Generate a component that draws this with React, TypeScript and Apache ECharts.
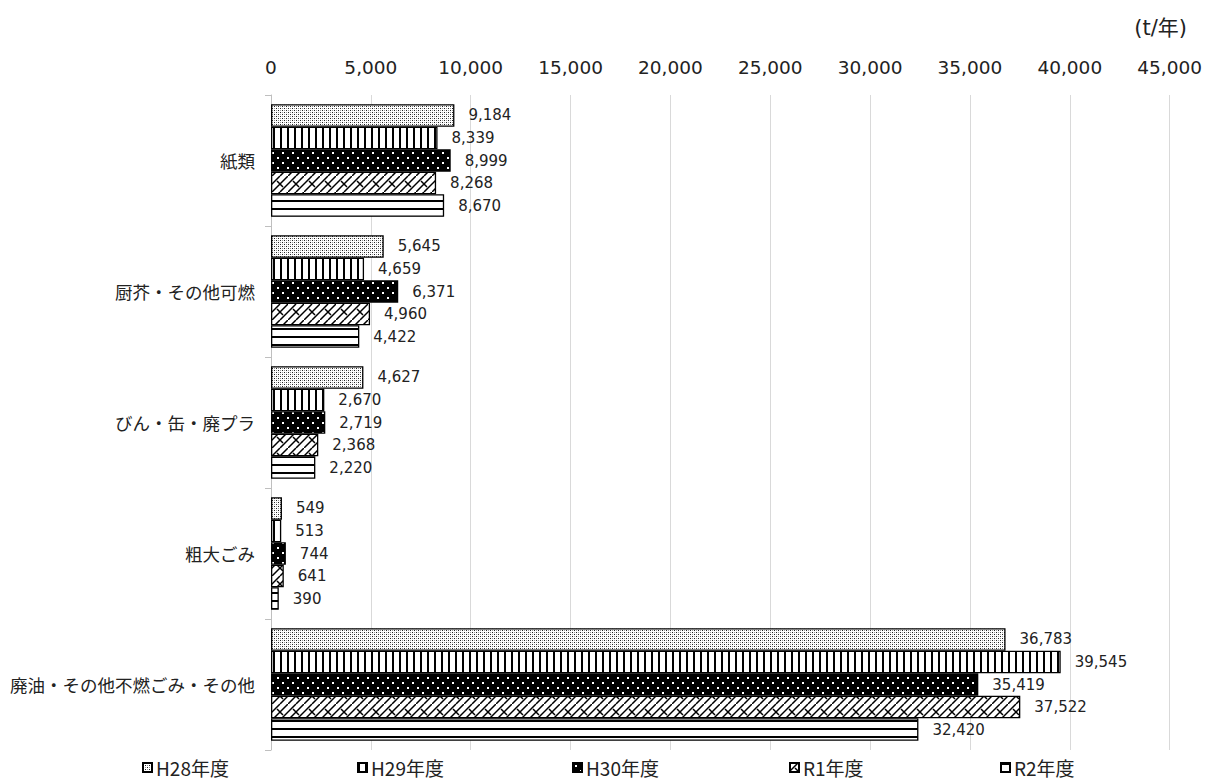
import React, { useEffect, useRef } from "react";
import * as echarts from "echarts";

const categories = ["紙類", "厨芥・その他可燃", "びん・缶・廃プラ", "粗大ごみ", "廃油・その他不燃ごみ・その他"];
const seriesNames = ["H28年度", "H29年度", "H30年度", "R1年度", "R2年度"];
const h28 = [9184, 5645, 4627, 549, 36783];
const h29 = [8339, 4659, 2670, 513, 39545];
const h30 = [8999, 6371, 2719, 744, 35419];
const r1 = [8268, 4960, 2368, 641, 37522];
const r2 = [8670, 4422, 2220, 390, 32420];
const seriesValues = [h28, h29, h30, r1, r2];
const xTicks = { min: 0, max: 45000, interval: 5000 };
const unitLabel = "(t/年)";

function mk(w: number, h: number, draw: (c: CanvasRenderingContext2D) => void) {
  const cv = document.createElement("canvas");
  cv.width = w;
  cv.height = h;
  const c = cv.getContext("2d")!;
  draw(c);
  return { image: cv, repeat: "repeat" as const };
}

function patterns() {
  const p28 = mk(4, 4, (c) => {
    c.fillStyle = "#fff";
    c.fillRect(0, 0, 4, 4);
    c.fillStyle = "#222";
    c.fillRect(0, 0, 1, 1);
    c.fillRect(2, 2, 1, 1);
    c.fillStyle = "#999";
    c.fillRect(2, 0, 1, 1);
    c.fillRect(0, 2, 1, 1);
  });
  const p29 = mk(7, 4, (c) => {
    c.fillStyle = "#fff";
    c.fillRect(0, 0, 7, 4);
    c.fillStyle = "#000";
    c.fillRect(0, 0, 2, 4);
  });
  const p30 = mk(10, 10, (c) => {
    c.fillStyle = "#000";
    c.fillRect(0, 0, 10, 10);
    c.fillStyle = "#fff";
    c.fillRect(2, 2, 2, 2);
    c.fillRect(7, 7, 2, 2);
  });
  const pr1 = mk(16, 16, (c) => {
    c.fillStyle = "#fff";
    c.fillRect(0, 0, 16, 16);
    c.strokeStyle = "#000";
    c.lineWidth = 1.5;
    c.beginPath();
    c.moveTo(0, 16);
    c.lineTo(16, 0);
    c.moveTo(-8, 16);
    c.lineTo(8, 0);
    c.moveTo(8, 16);
    c.lineTo(24, 0);
    c.moveTo(5, 5);
    c.lineTo(11, 11);
    c.stroke();
  });
  const pr2 = mk(4, 8, (c) => {
    c.fillStyle = "#fff";
    c.fillRect(0, 0, 4, 8);
    c.fillStyle = "#000";
    c.fillRect(0, 0, 4, 2);
  });
  return [p28, p29, p30, pr1, pr2];
}

const fmt = (v: number) => v.toLocaleString("en-US");
const JP = "'Noto Sans CJK JP', 'Noto Sans', sans-serif";
const NUM = "'DejaVu Sans', 'Noto Sans CJK JP', sans-serif";

export default function App() {
  const ref = useRef<HTMLDivElement>(null);
  useEffect(() => {
    const chart = echarts.init(ref.current!, undefined, { renderer: "svg" });
    const pats = patterns();
    const legendLefts = [142, 357, 572, 789, 1000];
    chart.setOption({
      animation: false,
      textStyle: { fontFamily: JP },
      grid: { left: 271, right: 34, top: 95, bottom: 33, containLabel: false },
      xAxis: {
        type: "value",
        position: "top",
        min: xTicks.min,
        max: xTicks.max,
        interval: xTicks.interval,
        axisLine: { show: false },
        axisTick: { show: false },
        axisLabel: { fontSize: 18.5, fontFamily: NUM, color: "#222", margin: 18, formatter: (v: number) => fmt(v) },
        splitLine: { lineStyle: { color: "#d9d9d9", width: 1 } },
      },
      yAxis: {
        type: "category",
        inverse: true,
        data: categories,
        axisLine: { lineStyle: { color: "#bfbfbf" } },
        axisTick: { show: true, length: 6, lineStyle: { color: "#bfbfbf" } },
        axisLabel: { fontSize: 17.5, fontFamily: JP, color: "#222", margin: 16 },
      },
      legend: seriesNames.map((n, i) => ({
        data: [n],
        left: legendLefts[i],
        top: 758,
        itemWidth: 9,
        itemHeight: 9,
        itemGap: 4,
        icon: "rect",
        padding: 0,
        textStyle: { fontSize: 19, lineHeight: 19, color: "#222", fontFamily: JP, padding: [0, 0, 0, -1] },
      })),
      graphic: [
        {
          type: "text",
          right: 18,
          top: 17,
          style: { text: unitLabel, fill: "#222", font: `21px ${NUM}` },
        },
      ],
      series: seriesNames.map((n, i) => ({
        name: n,
        type: "bar",
        data: seriesValues[i],
        barGap: "0%",
        barCategoryGap: "14%",
        itemStyle: { color: pats[i], borderColor: "#000", borderWidth: 1.3 },
        label: {
          show: true,
          position: "right",
          distance: 14,
          fontSize: 15,
          fontFamily: NUM,
          color: "#222",
          formatter: (p: any) => fmt(p.value),
        },
      })),
    });
    return () => chart.dispose();
  }, []);
  return <div ref={ref} style={{ position: "absolute", left: 0, top: 0, width: 1205, height: 783 }} />;
}
